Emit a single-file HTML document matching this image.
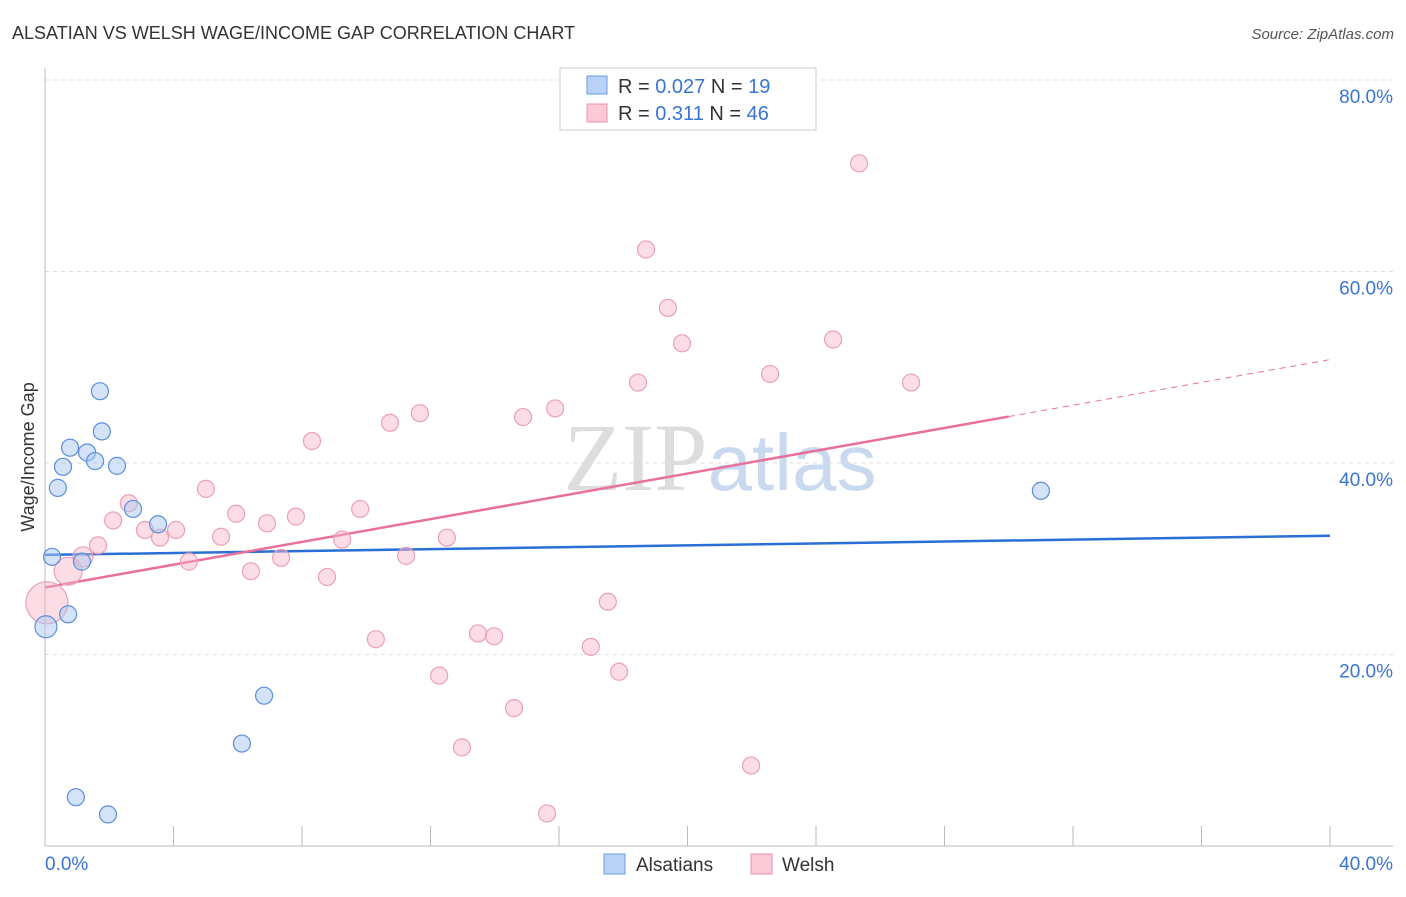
<!DOCTYPE html>
<html><head><meta charset="utf-8"><style>
body{margin:0;background:#fff;font-family:"Liberation Sans",sans-serif;}
</style></head><body>
<svg width="1406" height="892" xmlns="http://www.w3.org/2000/svg" style="font-family:'Liberation Sans',sans-serif">
<text x="12" y="39" font-size="18" fill="#333">ALSATIAN VS WELSH WAGE/INCOME GAP CORRELATION CHART</text>
<text x="1394" y="39" font-size="15" fill="#555" font-style="italic" text-anchor="end">Source: ZipAtlas.com</text>
<text x="720" y="490" font-size="96" fill="#ddd" text-anchor="middle" font-family="Liberation Serif">ZIP<tspan fill="#c9d9ef" font-family="Liberation Sans" font-size="80">atlas</tspan></text>
<g id="grid"></g>
<g id="axes"></g>
<g id="trends"></g>
<g id="points"></g>
<text transform="translate(34,457) rotate(-90)" font-size="18" fill="#333" text-anchor="middle">Wage/Income Gap</text>
<g>
<rect x="560" y="68" width="256" height="62" fill="#fff" stroke="#ccc"/>
<rect x="587" y="76" width="20" height="18" fill="#b8d3f5" stroke="#6b9ee0"/>
<rect x="587" y="104" width="20" height="18" fill="#fbc9d8" stroke="#e895b0"/>
<text x="618" y="93" font-size="20" fill="#333">R = <tspan fill="#3a74d4">0.027</tspan>   N =  <tspan fill="#3a74d4">19</tspan></text>
<text x="618" y="120" font-size="20" fill="#333">R =  <tspan fill="#3a74d4">0.311</tspan>   N = <tspan fill="#3a74d4">46</tspan></text>
</g>
<g>
<rect x="604" y="854" width="21" height="20" fill="#b8d3f5" stroke="#6b9ee0"/>
<text x="636" y="871" font-size="19" fill="#333">Alsatians</text>
<rect x="751" y="854" width="21" height="20" fill="#fbc9d8" stroke="#e895b0"/>
<text x="782" y="871" font-size="19" fill="#333">Welsh</text>
</g>
</svg>
<script>
const yTicks=[20,40,60,80];
const yTickLabels=["20.0%","40.0%","60.0%","80.0%"];
const xTicks=[0,4,8,12,16,20,24,28,32,36,40];
const alsX=[0.22,0.03,0.4,0.56,0.78,0.72,1.15,1.31,1.56,1.71,1.77,2.24,2.74,3.52,6.82,6.13,0.96,1.96,31.0];
const alsY=[30.2,22.9,37.4,39.6,41.6,24.2,29.7,41.1,40.2,47.5,43.3,39.7,35.2,33.6,15.7,10.7,5.1,3.3,37.1];
const alsR=[8.5,11,8.5,8.5,8.5,8.5,8.5,8.5,8.5,8.5,8.5,8.5,8.5,8.5,8.5,8.5,8.5,8.5,8.5];
const welX=[0.06,0.72,1.18,1.65,2.12,2.61,3.11,3.58,4.08,4.48,5.01,5.48,5.95,6.41,6.91,7.35,7.81,8.31,8.78,9.25,9.81,10.3,10.74,11.24,11.67,12.27,12.51,12.98,13.48,13.98,14.6,14.88,15.63,15.88,16.99,17.52,17.87,18.46,18.71,19.39,19.83,21.98,22.57,24.53,25.34,26.96];
const welY=[25.4,28.7,30.2,31.4,34.0,35.8,33.0,32.2,33.0,29.7,37.3,32.3,34.7,28.7,33.7,30.1,34.4,42.3,28.1,32.0,35.2,21.6,44.2,30.3,45.2,17.8,32.2,10.3,22.2,21.9,14.4,44.8,3.4,45.7,20.8,25.5,18.2,48.4,62.3,56.2,52.5,8.4,49.3,52.9,71.3,48.4];
const welR=[21,14,10];
const alsTrend=[30.4,32.4];
const welTrend=[27.0,50.8];
const welSolidEnd=30;
const X=v=>45+v/40*1285, Y=v=>846-v/20*191.5;
const NS="http://www.w3.org/2000/svg";
function mk(p,t,a){const e=document.createElementNS(NS,t);for(const k in a)e.setAttribute(k,a[k]);document.getElementById(p).appendChild(e);return e;}
yTicks.forEach((t,i)=>{
 const l=mk('grid','line',{x1:45,x2:1393,y1:Y(t),y2:Y(t),stroke:'#ddd','stroke-dasharray':'4,4'});
 
 
 const tx=mk('grid','text',{x:1393,y:Y(t)+23,'font-size':19,fill:'#3a74d4','text-anchor':'end'});
 tx.textContent=yTickLabels[i];
 
 
});
let ax=mk('axes','line',{x1:45,x2:45,y1:68,y2:846,stroke:'#bbb'});


ax=mk('axes','line',{x1:45,x2:1393,y1:846,y2:846,stroke:'#bbb'});


xTicks.forEach(t=>{const l=mk('axes','line',{x1:X(t),x2:X(t),y1:826,y2:846,stroke:'#bbb'});
 
 });
let t0=mk('axes','text',{x:45,y:870,'font-size':19,fill:'#3a74d4'});t0.textContent='0.0%';


t0=mk('axes','text',{x:1393,y:870,'font-size':19,fill:'#3a74d4','text-anchor':'end'});t0.textContent='40.0%';


welX.forEach((x,i)=>{const c=mk('points','circle',{cx:X(x),cy:Y(welY[i]),r:welR[i]||8.5,fill:'rgba(248,180,200,0.45)',stroke:'#eaa0b8','stroke-width':1.2});
 
 });
alsX.forEach((x,i)=>{const c=mk('points','circle',{cx:X(x),cy:Y(alsY[i]),r:alsR[i],fill:'rgba(170,200,240,0.5)',stroke:'#5b8fdc','stroke-width':1.2});
 
 });
let tl=mk('trends','line',{x1:X(0),x2:X(40),y1:Y(alsTrend[0]),y2:Y(alsTrend[1]),stroke:'#2a6fd6','stroke-width':2.5});


const wm=v=>welTrend[0]+(welTrend[1]-welTrend[0])*v/40;
tl=mk('trends','line',{x1:X(0),x2:X(welSolidEnd),y1:Y(wm(0)),y2:Y(wm(welSolidEnd)),stroke:'#e8709a','stroke-width':2.5});


tl=mk('trends','line',{x1:X(welSolidEnd),x2:X(40),y1:Y(wm(welSolidEnd)),y2:Y(wm(40)),stroke:'#e8709a','stroke-width':1,'stroke-dasharray':'6,5'});


</script>
</body></html>
